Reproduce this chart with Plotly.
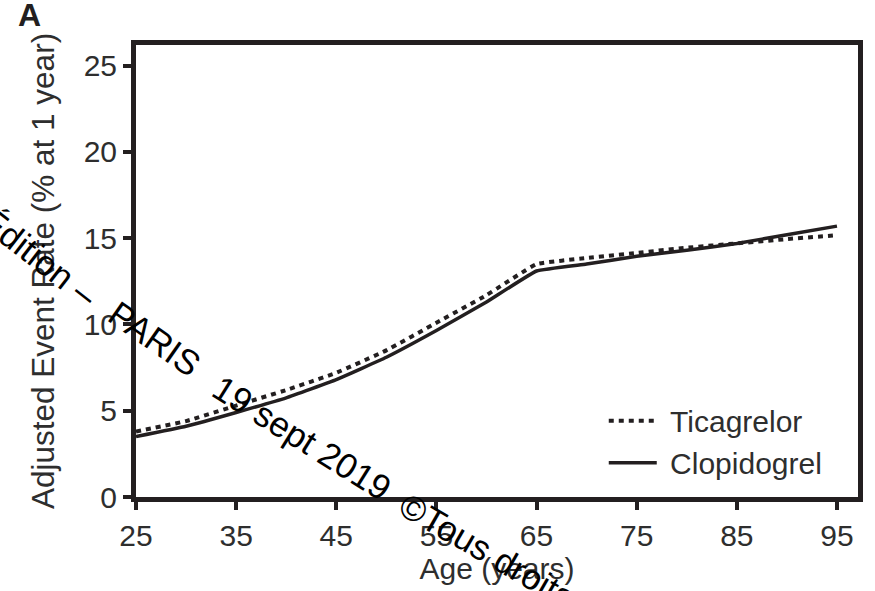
import plotly.graph_objects as go

# Age (years) at which the adjusted event rate is evaluated
ages = [25, 30, 35, 40, 45, 50, 55, 60, 65, 70, 75, 80, 85, 90, 95]

# Adjusted event rate (% at 1 year)
ticagrelor = [3.8, 4.4, 5.3, 6.2, 7.2, 8.5, 10.1, 11.7, 13.5, 13.85, 14.15, 14.45, 14.7, 14.95, 15.17]
clopidogrel = [3.5, 4.1, 4.9, 5.75, 6.8, 8.1, 9.65, 11.3, 13.1, 13.5, 13.95, 14.3, 14.7, 15.2, 15.7]

x_ticks = [25, 35, 45, 55, 65, 75, 85, 95]
y_ticks = [0, 5, 10, 15, 20, 25]

INK = "#231f20"
TEXT = "#2e2e2e"
FONT = "Liberation Sans, Arial, sans-serif"

W, H = 875, 591
ML, MR, MT, MB = 136, 12, 45, 91


def px_to_paper(px, py):
    pw = W - ML - MR
    ph = H - MT - MB
    return (px - ML) / pw, (H - MB - py) / ph


fig = go.Figure()
fig.add_trace(go.Scatter(
    x=ages, y=ticagrelor, mode="lines", name="\u00a0Ticagrelor",
    line=dict(color=INK, width=4, dash="5px,5px", shape="spline", smoothing=0.3),
))
fig.add_trace(go.Scatter(
    x=ages, y=clopidogrel, mode="lines", name="\u00a0Clopidogrel",
    line=dict(color=INK, width=3.5, shape="spline", smoothing=0.3),
))

axis_common = dict(
    showline=True, linecolor=INK, linewidth=5, mirror=True,
    ticks="outside", ticklen=8, tickwidth=4, tickcolor=INK,
    showgrid=False, zeroline=False,
    tickfont=dict(family=FONT, size=30, color=TEXT),
)

fig.update_xaxes(
    range=[25, 97.1], tickvals=x_ticks, ticktext=[str(v) for v in x_ticks],
    title_text="Age (years)", title_standoff=6,
    title_font=dict(family=FONT, size=30, color=TEXT), **axis_common,
)
fig.update_yaxes(
    range=[0, 26.2], tickvals=y_ticks, ticktext=[str(v) for v in y_ticks],
    title_text="Adjusted Event Rate (% at 1 year)", title_standoff=21,
    title_font=dict(family=FONT, size=31.5, color=TEXT), **axis_common,
)

# panel letter
ax, ay = px_to_paper(15, 35)
annotations = [dict(
    text="<b>A</b>", x=ax, y=ay, xref="paper", yref="paper",
    xanchor="left", yanchor="bottom", showarrow=False,
    font=dict(family=FONT, size=32, color=INK),
)]

# diagonal watermark, laid out in pieces along a gentle arc
watermark = [
    ("Édition –", 39, 259, 38),
    ("PARIS", 155, 340, 35),
    ("19 sept 2019", 303, 440, 32),
    ("©Tous droits réservés", 552, 590, 30),
]
for txt, cx, cy, ang in watermark:
    wx, wy = px_to_paper(cx, cy)
    annotations.append(dict(
        text=txt, x=wx, y=wy, xref="paper", yref="paper",
        xanchor="center", yanchor="middle", showarrow=False,
        textangle=ang, font=dict(family=FONT, size=35, color="#000000"),
    ))

lx, ly = px_to_paper(607, 397)
fig.update_layout(
    width=W, height=H,
    margin=dict(l=ML, r=MR, t=MT, b=MB),
    paper_bgcolor="white", plot_bgcolor="white",
    showlegend=True,
    legend=dict(
        x=lx, y=ly, xanchor="left", yanchor="top",
        bgcolor="rgba(0,0,0,0)", borderwidth=0,
        font=dict(family=FONT, size=30, color=TEXT),
        itemwidth=48, tracegroupgap=0,
    ),
    annotations=annotations,
)

fig.write_html("out.html")
